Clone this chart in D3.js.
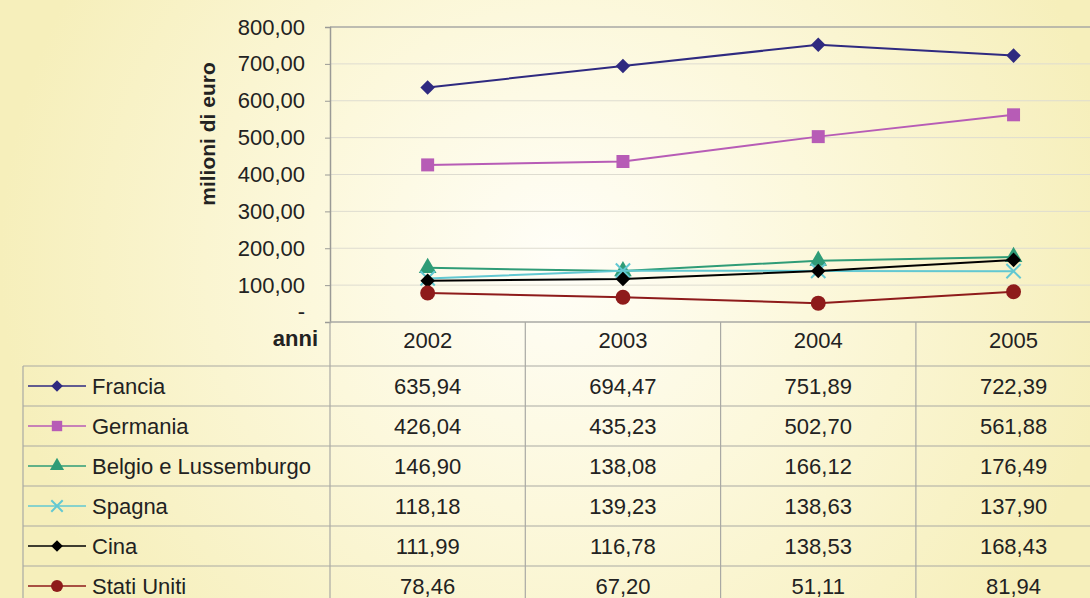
<!DOCTYPE html>
<html>
<head>
<meta charset="utf-8">
<script src="https://cdn.jsdelivr.net/npm/d3@7"></script>
<style>
  html, body { margin: 0; padding: 0; background: #f8f3c8; }
  svg { display: block; font-family: "Liberation Sans", Arial, sans-serif; }
</style>
</head>
<body>
<div id="chart"></div>
<script>
const years = ['2002', '2003', '2004', '2005'];
const countries = ['Francia', 'Germania', 'Belgio e Lussemburgo', 'Spagna', 'Cina', 'Stati Uniti'];
const francia = [635.94, 694.47, 751.89, 722.39];
const germania = [426.04, 435.23, 502.70, 561.88];
const belgio = [146.90, 138.08, 166.12, 176.49];
const spagna = [118.18, 139.23, 138.63, 137.90];
const cina = [111.99, 116.78, 138.53, 168.43];
const statiUniti = [78.46, 67.20, 51.11, 81.94];
const yTicks = [0, 100, 200, 300, 400, 500, 600, 700, 800];

const seriesValues = [francia, germania, belgio, spagna, cina, statiUniti];
const colors = ['#2f2a80', '#b75cb6', '#2f9c77', '#62c8d2', '#000000', '#8e1b1b'];
const markers = ['diamond', 'square', 'triangle', 'cross', 'diamond', 'circle'];

const width = 1090, height = 598;
const plot = {left: 330, top: 27, bottom: 322};
const colW = 195.3;
const rowH = 40;
const tableTop = 366;
const tableLeft = 23;
const fontSize = '22px';

const locale = d3.formatLocale({decimal: ',', thousands: '.', grouping: [3], currency: ['€', '']});
const fmt = locale.format(',.2f');

const svg = d3.select('#chart').append('svg')
    .attr('width', width)
    .attr('height', height);

// background gradient
const defs = svg.append('defs');
const bg = defs.append('radialGradient')
    .attr('id', 'bg')
    .attr('gradientUnits', 'userSpaceOnUse')
    .attr('cx', 560).attr('cy', 260).attr('r', 560);
bg.append('stop').attr('offset', '0%').attr('stop-color', '#fffef8');
bg.append('stop').attr('offset', '45%').attr('stop-color', '#fcf8dc');
bg.append('stop').attr('offset', '100%').attr('stop-color', '#f6efbb');

svg.append('rect')
    .attr('width', width).attr('height', height)
    .attr('fill', 'url(#bg)');

const x = d3.scaleBand()
    .domain(years)
    .range([plot.left, plot.left + colW * years.length]);

const y = d3.scaleLinear()
    .domain([0, 800])
    .range([plot.bottom, plot.top]);

// gridlines
svg.append('g')
    .selectAll('line')
    .data(yTicks.filter(d => d > 0))
    .join('line')
    .attr('x1', plot.left).attr('x2', width)
    .attr('y1', d => y(d)).attr('y2', d => y(d))
    .attr('stroke', d => d === 800 ? '#a9a9a4' : '#dedcd0')
    .attr('stroke-width', d => d === 800 ? 1.5 : 1);

// y axis
const yAxis = d3.axisLeft(y)
    .tickValues(yTicks)
    .tickSize(5)
    .tickFormat(d => d === 0 ? '-' : fmt(d));

const yg = svg.append('g')
    .attr('transform', `translate(${plot.left},0)`)
    .call(yAxis);
yg.select('.domain').attr('stroke', '#9a9a96').attr('stroke-width', 1.5);
yg.selectAll('.tick line').attr('stroke', '#9a9a96');
yg.selectAll('.tick text')
    .attr('x', -25)
    .attr('fill', '#222')
    .style('font-size', fontSize);
yg.selectAll('.tick text').filter(d => d === 0).attr('dy', '-0.15em');

svg.append('text')
    .attr('transform', 'rotate(-90)')
    .attr('x', -134)
    .attr('y', 215)
    .attr('text-anchor', 'middle')
    .attr('fill', '#222')
    .style('font-size', '21px')
    .style('font-weight', 'bold')
    .text('milioni di euro');

// table grid
const grid = svg.append('g').attr('stroke', '#a9a9a4').attr('stroke-width', 1.2);
grid.append('line')
    .attr('x1', plot.left).attr('x2', width)
    .attr('y1', plot.bottom).attr('y2', plot.bottom)
    .attr('stroke-width', 1.5);
years.slice(1).forEach(yr => {
    grid.append('line')
        .attr('x1', x(yr)).attr('x2', x(yr))
        .attr('y1', plot.bottom).attr('y2', height);
});
grid.append('line')
    .attr('x1', plot.left).attr('x2', plot.left)
    .attr('y1', plot.bottom).attr('y2', height);
grid.append('line')
    .attr('x1', tableLeft).attr('x2', tableLeft)
    .attr('y1', tableTop).attr('y2', height);
countries.forEach((c, i) => {
    grid.append('line')
        .attr('x1', tableLeft).attr('x2', width)
        .attr('y1', tableTop + i * rowH).attr('y2', tableTop + i * rowH);
});

// header row
svg.append('text')
    .attr('x', 318).attr('y', 346)
    .attr('text-anchor', 'end')
    .attr('fill', '#222')
    .style('font-size', fontSize)
    .style('font-weight', 'bold')
    .text('anni');

svg.append('g')
    .selectAll('text')
    .data(years)
    .join('text')
    .attr('x', d => x(d) + x.bandwidth() / 2)
    .attr('y', 348)
    .attr('text-anchor', 'middle')
    .attr('fill', '#222')
    .style('font-size', fontSize)
    .text(d => d);

// marker drawing
function drawMarker(g, type, color, size) {
    if (type === 'diamond') {
        g.append('path').attr('d', d3.symbol(d3.symbolDiamond2, size * size * 0.6)())
            .attr('fill', color);
    } else if (type === 'square') {
        g.append('path').attr('d', d3.symbol(d3.symbolSquare, size * size * 0.75)())
            .attr('fill', color);
    } else if (type === 'triangle') {
        g.append('path').attr('d', d3.symbol(d3.symbolTriangle, size * size * 0.6)())
            .attr('fill', color);
    } else if (type === 'cross') {
        g.append('path').attr('d', d3.symbol(d3.symbolTimes, size * size * 0.6)())
            .attr('fill', 'none').attr('stroke', color).attr('stroke-width', 2);
    } else if (type === 'circle') {
        g.append('path').attr('d', d3.symbol(d3.symbolCircle, size * size * 0.78)())
            .attr('fill', color);
    }
}

// lines
const line = d3.line()
    .x((d, i) => x(years[i]) + x.bandwidth() / 2)
    .y(d => y(d));

const seriesG = svg.append('g');
seriesValues.forEach((vals, s) => {
    const g = seriesG.append('g');
    g.append('path')
        .attr('d', line(vals))
        .attr('fill', 'none')
        .attr('stroke', colors[s])
        .attr('stroke-width', 2);
    vals.forEach((v, i) => {
        const m = g.append('g')
            .attr('transform', `translate(${x(years[i]) + x.bandwidth() / 2},${y(v)})`);
        drawMarker(m, markers[s], colors[s], 15);
    });
});

// table rows
countries.forEach((c, i) => {
    const cy = tableTop + i * rowH + rowH / 2;
    const row = svg.append('g');
    row.append('line')
        .attr('x1', 28).attr('x2', 86)
        .attr('y1', cy).attr('y2', cy)
        .attr('stroke', colors[i]).attr('stroke-width', 1.6);
    const m = row.append('g').attr('transform', `translate(57,${cy})`);
    drawMarker(m, markers[i], colors[i], 12);
    row.append('text')
        .attr('x', 92).attr('y', cy + 8)
        .attr('fill', '#222')
        .style('font-size', fontSize)
        .text(c);
    row.selectAll('text.val')
        .data(seriesValues[i])
        .join('text')
        .attr('class', 'val')
        .attr('x', (d, j) => x(years[j]) + x.bandwidth() / 2)
        .attr('y', cy + 8)
        .attr('text-anchor', 'middle')
        .attr('fill', '#222')
        .style('font-size', fontSize)
        .text(d => fmt(d));
});
</script>
</body>
</html>
